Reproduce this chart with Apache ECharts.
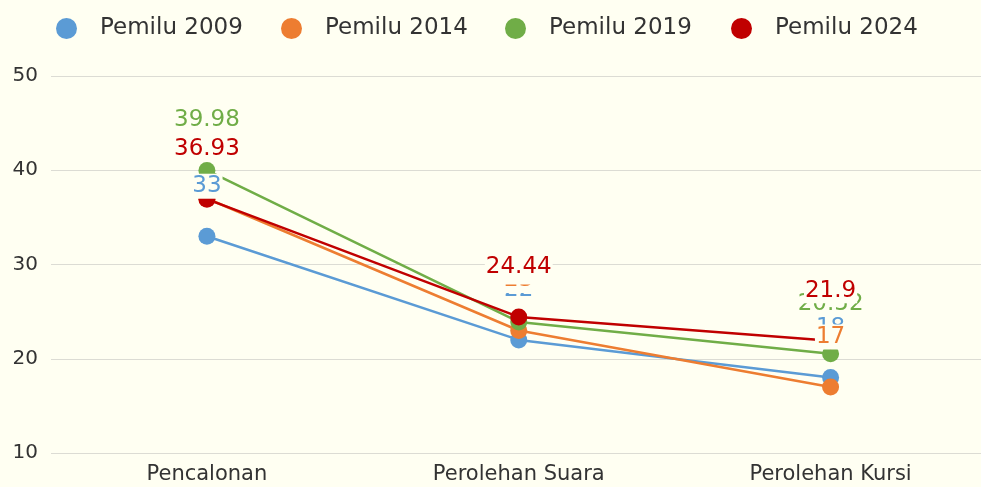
<!DOCTYPE html>
<html>
<head>
<meta charset="utf-8">
<script src="https://cdn.jsdelivr.net/npm/echarts@6/dist/echarts.min.js"></script>
<style>
html,body{margin:0;padding:0;background:#fffff2;}
#chart{width:981px;height:487px;}
</style>
</head>
<body>
<div id="chart"></div>
<script>
const categories = ['Pencalonan', 'Perolehan Suara', 'Perolehan Kursi'];
const seriesNames = ['Pemilu 2009', 'Pemilu 2014', 'Pemilu 2019', 'Pemilu 2024'];
const pemilu2009 = [33, 22, 18];
const pemilu2014 = [37, 23, 17];
const pemilu2019 = [39.98, 23.9, 20.52];
const pemilu2024 = [36.93, 24.44, 21.9];
const yTicks = [10, 20, 30, 40, 50];

const colors = ['#5b9bd5', '#ed7d31', '#70ad47', '#c00000'];
const bg = '#fffff2';
const font = 'DejaVu Sans';
const allData = [pemilu2009, pemilu2014, pemilu2019, pemilu2024];
const legendLefts = [56, 281, 505, 731];
const catIdx = categories.map((c, i) => i);

const chart = echarts.init(document.getElementById('chart'));
chart.setOption({
  animation: false,
  backgroundColor: bg,
  textStyle: { fontFamily: font },
  legend: seriesNames.map((n, i) => ({
    data: [n],
    left: legendLefts[i],
    top: 17,
    padding: 0,
    icon: 'circle',
    itemWidth: 21,
    itemHeight: 21,
    textStyle: { fontSize: 23, color: '#333', fontFamily: font, padding: [0, 0, 0, 18] }
  })),
  grid: { left: 51, right: 0, top: 76, bottom: 34, containLabel: false },
  xAxis: {
    type: 'value',
    min: -0.5,
    max: 2.5 - 5.5 / 311.5,
    splitLine: { show: false },
    axisLine: { show: false },
    axisTick: { show: false },
    axisLabel: {
      customValues: catIdx,
      formatter: v => categories[Math.round(v)] || '',
      fontSize: 21, color: '#333', margin: 11, fontFamily: font
    }
  },
  yAxis: {
    type: 'value',
    min: yTicks[0],
    max: yTicks[yTicks.length - 1],
    interval: 10,
    axisLine: { show: false },
    axisTick: { show: false },
    axisLabel: { fontSize: 20, color: '#333', margin: 13, fontFamily: font },
    splitLine: { lineStyle: { color: '#dcdcd4', width: 1 } }
  },
  series: seriesNames.map((n, i) => ({
    name: n,
    type: 'line',
    data: allData[i].map((v, k) => [catIdx[k], v]),
    color: colors[i],
    symbol: 'circle',
    symbolSize: 17,
    lineStyle: { width: 2.5, color: colors[i] },
    itemStyle: { color: colors[i] },
    label: {
      show: true,
      position: 'top',
      distance: 29,
      fontSize: 23,
      color: colors[i],
      fontFamily: font,
      backgroundColor: bg,
      padding: [1, 1],
      formatter: p => p.value[1]
    }
  }))
});
</script>
</body>
</html>
